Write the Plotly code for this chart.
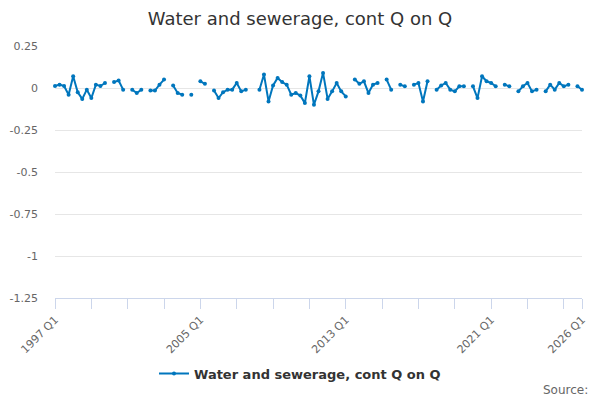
import plotly.graph_objects as go

# quarters 1997 Q1 .. 2026 Q1
quarters = [f"{y} Q{q}" for y in range(1997, 2027) for q in range(1, 5)][:117]

# cont Q on Q, None where no value published
values = [
    0.012, 0.02, 0.012, -0.04, 0.07, -0.025, -0.065, -0.01, -0.06, 0.02,
    0.012, 0.03, None, 0.035, 0.045, -0.01, None, -0.01, -0.03, -0.01,
    None, -0.015, -0.015, 0.02, 0.05, None, 0.015, -0.03, -0.04, None,
    -0.04, None, 0.04, 0.025, None, -0.015, -0.06, -0.025, -0.01, -0.01,
    0.03, -0.02, -0.01, None, None, -0.01, 0.08, -0.08, 0.015, 0.06,
    0.035, 0.02, -0.04, -0.03, -0.045, -0.09, 0.07, -0.1, -0.02, 0.09,
    -0.065, -0.02, 0.03, -0.02, -0.05, None, 0.05, 0.025, 0.04, -0.03,
    0.02, 0.03, None, 0.05, -0.01, None, 0.02, 0.01, None, 0.02,
    0.03, -0.08, 0.04, None, -0.01, 0.015, 0.03, -0.01, -0.02, 0.01,
    0.01, None, 0.01, -0.06, 0.07, 0.04, 0.03, 0.01, None, 0.02,
    0.01, None, -0.02, 0.01, 0.03, -0.02, -0.01, None, -0.02, 0.02,
    -0.01, 0.03, 0.01, 0.02, None, 0.01, -0.01,
]

tick_idx = list(range(0, 113, 8)) + [116]
label_idx = [0, 32, 64, 96, 116]
x_tickvals = [quarters[i] for i in tick_idx]
x_ticktext = [quarters[i] if i in label_idx else "" for i in tick_idx]

y_tickvals = [0.25, 0, -0.25, -0.5, -0.75, -1, -1.25]
y_ticktext = ["0.25", "0", "-0.25", "-0.5", "-0.75", "-1", "-1.25"]

series_name = "Water and sewerage, cont Q on Q"
line_col = "#0076bd"

fig = go.Figure()
fig.add_trace(go.Scatter(
    x=quarters, y=values, name=series_name,
    mode="lines+markers",
    line=dict(color=line_col, width=2),
    marker=dict(color=line_col, size=4),
    connectgaps=False,
    cliponaxis=False,
))

fig.update_layout(
    width=600, height=400,
    margin=dict(l=55, r=18, t=46, b=102, autoexpand=False),
    paper_bgcolor="white", plot_bgcolor="white",
    font=dict(family="DejaVu Sans", color="#333333"),
    title=dict(text=series_name, x=0.5, xanchor="center", y=0.9525, yanchor="middle",
               yref="container", automargin=False, font=dict(size=18, color="#333333")),
    showlegend=True,
    legend=dict(orientation="h", x=0.5, xref="container", xanchor="center",
                y=-0.3, yanchor="middle", itemwidth=30,
                font=dict(size=13, color="#333333", weight="bold")),
    xaxis=dict(
        type="category", categoryorder="array", categoryarray=quarters,
        range=[0, 116], tickmode="array", tickvals=x_tickvals, ticktext=x_ticktext,
        tickangle=-45, tickfont=dict(size=11, color="#666666"), automargin=False,
        showgrid=False, showline=True, linecolor="#ccd6eb", linewidth=1,
        ticks="outside", ticklen=10, tickcolor="#ccd6eb", zeroline=False,
    ),
    yaxis=dict(
        range=[-1.25, 0.25], tickmode="array", tickvals=y_tickvals, ticktext=y_ticktext,
        tickfont=dict(size=11, color="#666666"), automargin=False,
        showgrid=True, gridcolor="#e6e6e6", gridwidth=1, zeroline=False,
        showline=False, ticks="", ticklabelstandoff=16,
    ),
    annotations=[dict(text="Source:", xref="paper", yref="paper", x=1.015, y=-0.365,
                      xanchor="right", yanchor="middle", showarrow=False,
                      font=dict(size=12, color="#666666"))],
)

# page body has a default 8px margin, drop it so the chart sits at 0,0
fig.write_html("out.html", config={"displayModeBar": False},
               post_script="document.body.style.margin='0px';")
